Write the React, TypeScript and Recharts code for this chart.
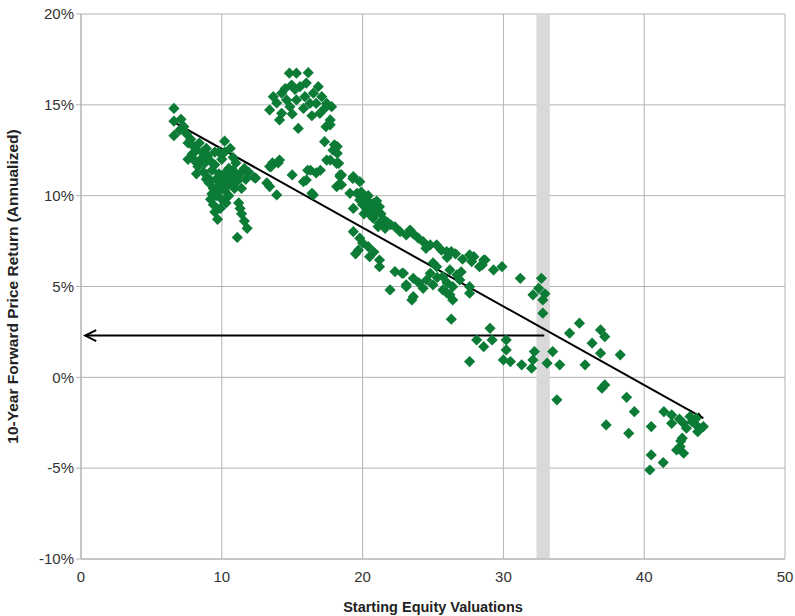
import {
  CartesianGrid,
  ReferenceArea,
  ReferenceLine,
  Scatter,
  ScatterChart,
  XAxis,
  YAxis,
} from "recharts";

// [starting valuation, 10y forward annualized return %]
const earlyCluster: [number, number][] = [
  [6.6, 14.8], [6.6, 14.1], [7.1, 14.2], [6.6, 13.3], [7.0, 13.6], [7.3, 13.8],
  [7.5, 13.4], [7.8, 13.1], [7.6, 12.9], [8.0, 12.7], [7.9, 12.3], [8.2, 12.5],
  [8.4, 12.9], [8.6, 12.4], [8.1, 11.9], [8.5, 12.0], [8.3, 11.6], [8.8, 11.8],
  [8.9, 12.6], [9.0, 12.2], [9.2, 11.9], [8.7, 11.3], [9.0, 11.0], [9.3, 11.4],
  [9.5, 11.7], [9.1, 10.7], [9.4, 10.4], [9.6, 10.9], [9.8, 11.2], [9.7, 10.2],
  [9.9, 10.6], [10.1, 10.9], [10.3, 11.3], [10.0, 9.8], [10.2, 10.3], [10.4, 10.6],
  [10.6, 11.0], [10.8, 11.4], [10.5, 10.0], [10.9, 10.4], [11.1, 10.8], [11.3, 11.2],
  [11.6, 11.5], [11.9, 11.3], [11.4, 10.4], [9.4, 9.5], [9.5, 9.1], [9.7, 8.7],
  [9.2, 9.8], [10.2, 12.4], [10.2, 13.0], [10.6, 12.6], [10.8, 12.1], [11.0, 11.8],
  [10.0, 12.0], [9.8, 12.4], [7.6, 12.0], [8.2, 11.2], [8.0, 12.0], [9.5, 12.4],
  [12.3, 11.0], [11.2, 9.6], [11.4, 9.0], [11.6, 8.6], [11.8, 8.2], [11.1, 7.7],
  [11.3, 9.3], [9.9, 9.3], [10.3, 9.6], [9.6, 10.0], [8.9, 10.9], [10.7, 10.7],
  [10.0, 10.4], [10.5, 11.5], [9.3, 10.1], [10.9, 11.0], [11.7, 10.9],
];

const seventiesBand: [number, number][] = [
  [12.4, 10.97], [13.2, 10.7], [13.4, 11.6], [13.6, 11.8], [14.0, 11.8], [14.1, 11.96],
  [13.4, 10.5], [13.9, 10.04], [15.0, 11.14], [15.8, 10.77], [16.1, 11.4], [16.5, 10.04],
  [16.7, 11.25], [17.45, 11.96], [17.9, 12.5], [17.3, 12.97], [18.2, 12.7], [18.4, 11.05],
  [18.3, 10.6], [18.0, 12.8], [18.2, 12.33], [17.7, 11.96], [18.3, 11.78], [17.0, 11.4],
  [16.3, 11.4], [16.0, 10.86], [13.5, 11.6], [16.4, 10.13], [18.5, 11.14],
];

const peakCluster: [number, number][] = [
  [14.8, 16.74], [15.3, 16.74], [16.14, 16.77], [14.96, 16.09], [15.55, 16.0], [16.85, 16.0],
  [13.66, 15.45], [14.25, 15.64], [14.6, 15.27], [15.9, 15.45], [16.5, 15.64], [17.1, 15.45],
  [17.45, 15.08], [17.8, 14.9], [13.4, 14.72], [14.25, 14.53], [14.84, 14.9], [15.3, 15.27],
  [16.26, 15.08], [16.97, 14.53], [17.3, 14.8], [14.1, 14.17], [15.43, 13.7], [17.7, 14.17],
  [17.7, 13.9], [15.2, 15.85], [16.7, 15.08], [15.8, 14.8], [14.5, 15.9], [16.0, 16.2],
  [15.0, 14.5], [13.9, 15.1], [16.4, 14.4], [17.4, 13.8],
];

const midDecline: [number, number][] = [
  [18.16, 11.78], [18.4, 11.14], [18.16, 10.5], [19.34, 11.05], [19.8, 10.77], [19.6, 10.13],
  [20.3, 9.76], [20.76, 9.58], [20.3, 9.21], [21.0, 9.03], [21.2, 9.39], [20.76, 8.76],
  [19.34, 9.3], [21.2, 8.48], [21.6, 8.2], [22.3, 8.29], [22.66, 8.02], [23.37, 8.11],
  [23.1, 7.84], [23.96, 7.66], [24.3, 7.47], [24.8, 7.29], [25.26, 7.29], [25.6, 7.0],
  [25.97, 6.92], [26.3, 6.92], [27.6, 6.74], [27.75, 6.37], [28.6, 6.46], [28.3, 6.09],
  [20.0, 9.5], [20.2, 9.9], [20.5, 9.4], [20.8, 9.2], [21.0, 9.7], [21.3, 9.0],
  [21.5, 8.7], [20.6, 8.9], [21.8, 8.5], [20.1, 9.0], [19.9, 10.2], [20.4, 10.0],
  [21.1, 8.3], [19.1, 10.13], [19.3, 10.95], [19.8, 9.76], [18.5, 10.6], [22.0, 8.4],
  [23.6, 7.9], [24.5, 7.1], [26.0, 6.6], [26.6, 6.8], [27.1, 6.5],
];

const lowerBranch: [number, number][] = [
  [19.34, 8.02], [19.8, 7.66], [19.7, 7.0], [20.4, 7.19], [20.5, 6.64], [21.2, 6.46],
  [21.2, 6.09], [19.5, 6.8], [20.0, 7.4], [20.8, 6.9], [22.3, 5.82], [22.8, 5.73],
  [23.6, 5.45], [23.1, 4.99], [21.95, 4.81], [24.55, 5.36], [24.8, 5.73], [25.26, 6.09],
  [25.7, 5.54], [26.2, 5.91], [26.7, 5.64], [25.0, 5.09], [25.7, 4.81], [26.4, 4.99],
  [26.9, 5.36], [27.6, 4.99], [26.2, 4.54], [23.6, 4.44], [25.0, 6.3], [26.0, 4.63],
  [26.4, 4.26], [27.6, 4.63], [26.3, 3.2], [23.5, 4.26], [23.1, 5.09], [22.9, 5.73],
  [24.0, 5.2], [25.3, 5.5], [26.0, 5.2], [27.0, 5.8], [24.3, 4.9],
];

const bubbleEra: [number, number][] = [
  [27.9, 6.64], [28.7, 6.46], [28.5, 6.19], [29.3, 5.91], [29.9, 6.09], [31.2, 5.45],
  [32.7, 5.45], [32.5, 4.9], [32.1, 4.54], [32.8, 4.26], [32.8, 3.53], [32.95, 4.6],
  [29.05, 2.7], [28.1, 2.06], [28.6, 1.69], [29.2, 2.06], [30.2, 2.06], [30.2, 1.51],
  [27.6, 0.87], [30.0, 0.96], [30.5, 0.87], [31.3, 0.69], [32.1, 0.96], [32.2, 1.42],
  [33.1, 0.78], [33.5, 1.42], [34.0, 0.69], [32.0, 0.5], [33.8, -1.24], [34.7, 2.43],
  [35.4, 2.98], [35.8, 0.69], [36.3, 1.88], [36.9, 2.61], [37.2, 2.24], [36.9, 1.33],
  [38.3, 1.24], [37.0, -0.6], [37.2, -0.42], [37.3, -2.62], [38.75, -1.1], [39.3, -1.89],
  [38.9, -3.08],
];

const lateCluster: [number, number][] = [
  [40.5, -2.71], [41.4, -1.89], [41.95, -2.07], [41.95, -2.53], [42.8, -2.53], [43.25, -2.16],
  [43.7, -2.25], [43.8, -2.71], [44.2, -2.71], [43.8, -2.99], [42.7, -3.35], [42.55, -3.81],
  [42.8, -4.18], [42.3, -4.0], [40.5, -4.27], [41.35, -4.69], [40.4, -5.1], [43.4, -2.44],
  [42.5, -2.3], [43.0, -2.8], [42.6, -3.5],
];

const points = [
  ...earlyCluster,
  ...seventiesBand,
  ...peakCluster,
  ...midDecline,
  ...lowerBranch,
  ...bubbleEra,
  ...lateCluster,
].map(([x, y]) => ({ x, y }));

const xTicks = [0, 10, 20, 30, 40, 50];
const yTicks = [-10, -5, 0, 5, 10, 15, 20];

// current valuation band and regression line endpoints
const currentBand: [number, number] = [32.35, 33.3];
const trendStart = { x: 6.6, y: 14.05 };
const trendEnd = { x: 44.2, y: -2.25 };
const arrowFrom = { x: 32.9, y: 2.3 };
const arrowTo = { x: 0.3, y: 2.3 };

const GREEN = "#0b7b36";
const GRID = "#b3b3b3";
const FONT = "'Liberation Sans', Arial, sans-serif";

function Diamond(props: any) {
  const { cx, cy } = props;
  if (cx == null || cy == null) return null;
  const r = 5.6;
  return (
    <polygon
      points={`${cx},${cy - r} ${cx + r},${cy} ${cx},${cy + r} ${cx - r},${cy}`}
      fill={GREEN}
    />
  );
}

function arrowShape(headLen: number, headHalf: number, open: boolean) {
  return (props: any) => {
    const { x1, y1, x2, y2 } = props;
    if ([x1, y1, x2, y2].some((v) => v == null || Number.isNaN(v))) return null;
    const dx = x2 - x1;
    const dy = y2 - y1;
    const len = Math.hypot(dx, dy) || 1;
    const ux = dx / len;
    const uy = dy / len;
    const bx = x2 - ux * headLen;
    const by = y2 - uy * headLen;
    const p1 = `${bx - uy * headHalf},${by + ux * headHalf}`;
    const p2 = `${bx + uy * headHalf},${by - ux * headHalf}`;
    return (
      <g>
        <line x1={x1} y1={y1} x2={x2} y2={y2} stroke="#000" strokeWidth={2} />
        {open ? (
          <polyline
            points={`${p1} ${x2},${y2} ${p2}`}
            fill="none"
            stroke="#000"
            strokeWidth={2}
          />
        ) : (
          <polygon points={`${p1} ${x2},${y2} ${p2}`} fill="#000" />
        )}
      </g>
    );
  };
}

export default function App() {
  return (
    <div style={{ position: "absolute", left: 0, top: 0, background: "#fff" }}>
      <ScatterChart
        width={795}
        height={616}
        margin={{ top: 14, right: 10, bottom: 0, left: 0 }}
      >
        <CartesianGrid stroke={GRID} strokeWidth={1} />
        <XAxis
          type="number"
          dataKey="x"
          domain={[0, 50]}
          ticks={xTicks}
          interval={0}
          height={57}
          axisLine={{ stroke: GRID }}
          tickLine={false}
          tick={{ fontSize: 15, fill: "#333", fontFamily: FONT }}
          tickMargin={6}
          label={{
            value: "Starting Equity Valuations",
            position: "insideBottom",
            offset: 4,
            style: {
              fontSize: 14.5,
              fontWeight: 700,
              fill: "#222",
              fontFamily: FONT,
            },
          }}
        />
        <YAxis
          type="number"
          dataKey="y"
          domain={[-10, 20]}
          ticks={yTicks}
          interval={0}
          width={81}
          axisLine={{ stroke: GRID }}
          tickLine={{ stroke: GRID }}
          tickSize={5}
          tickFormatter={(v: number) => `${v}%`}
          tick={{ fontSize: 15, fill: "#333", fontFamily: FONT }}
          label={{
            value: "10-Year Forward Price Return (Annualized)",
            angle: -90,
            position: "insideLeft",
            offset: 12,
            style: {
              textAnchor: "middle",
              fontSize: 15.5,
              fontWeight: 700,
              fill: "#222",
              fontFamily: FONT,
            },
          }}
        />
        <ReferenceArea
          x1={currentBand[0]}
          x2={currentBand[1]}
          y1={-10}
          y2={20}
          fill="#d9d9d9"
          fillOpacity={1}
          stroke="none"
        />
        <Scatter
          data={points}
          shape={<Diamond />}
          isAnimationActive={false}
        />
        <ReferenceLine
          segment={[trendStart, trendEnd]}
          shape={arrowShape(7, 3, false)}
        />
        <ReferenceLine
          segment={[arrowFrom, arrowTo]}
          shape={arrowShape(11, 5.5, true)}
        />
      </ScatterChart>
    </div>
  );
}
